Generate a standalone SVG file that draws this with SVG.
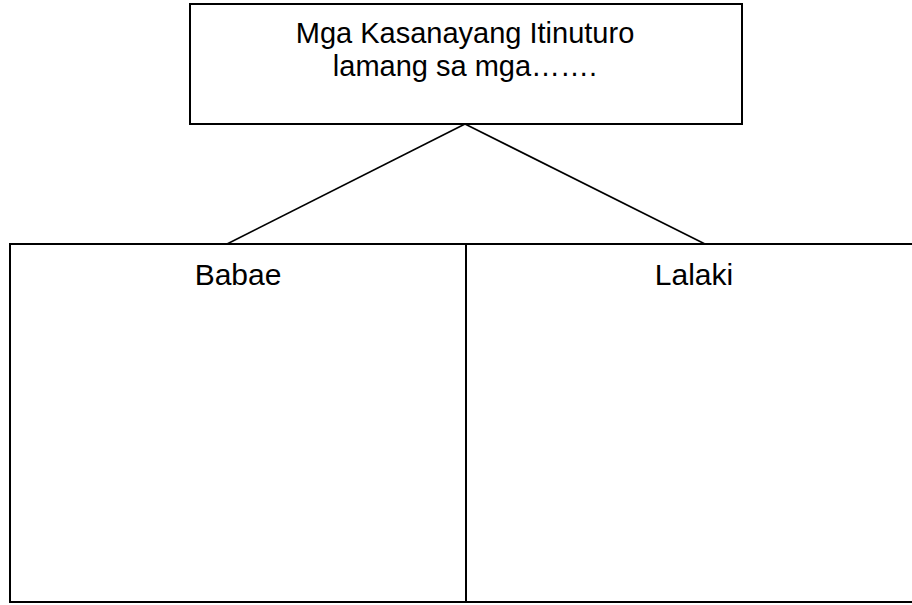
<svg xmlns="http://www.w3.org/2000/svg" width="912" height="605" viewBox="0 0 912 605">
<style>
.box{fill:#fff;stroke:#000;stroke-width:2}
.conn{stroke:#000;stroke-width:1.6;fill:none}
.t{font-family:"Liberation Sans",Arial,sans-serif;fill:#000;text-anchor:middle}
</style>
<rect width="912" height="605" fill="#fff"/>
<g id="connectors">
<line class="conn" x1="465" y1="124" x2="227" y2="244"/>
<line class="conn" x1="465" y1="124" x2="705" y2="244"/>
</g>
<g id="top">
<rect class="box" x="190" y="4" width="552" height="120"/>
<text class="t" x="465" y="43" font-size="29">Mga Kasanayang Itinuturo</text>
<text class="t" x="465" y="76" font-size="29">lamang sa mga…….</text>
</g>
<g id="babae">
<rect class="box" x="10" y="244" width="456" height="358"/>
<text class="t" x="238" y="285" font-size="30">Babae</text>
</g>
<g id="lalaki">
<rect class="box" x="466" y="244" width="456" height="358"/>
<text class="t" x="694" y="285" font-size="30">Lalaki</text>
</g>
</svg>
